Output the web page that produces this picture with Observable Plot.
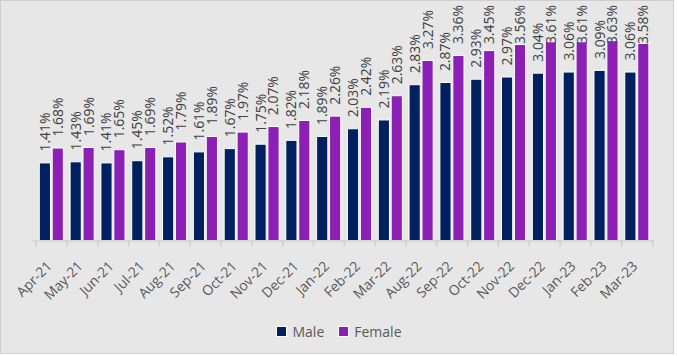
<!DOCTYPE html>
<html>
<head>
<meta charset="utf-8">
<script src="https://cdn.jsdelivr.net/npm/d3@7"></script>
<script src="https://cdn.jsdelivr.net/npm/@observablehq/plot@0.6"></script>
<style>
  html, body { margin: 0; padding: 0; background: #ffffff; }
  #chart { position: relative; width: 674px; height: 354px; box-sizing: border-box;
           border: 1px solid #cfcfcf; background: #e7e7e7; overflow: hidden;
           font-family: "Open Sans", sans-serif; }
  #plot { position: absolute; left: -1px; top: -1px; }
  #legend { position: absolute; left: 0; width: 676px; top: 321px; display: flex; justify-content: center;
            gap: 14px; font-size: 14px; color: #595959; }
  .item { display: flex; align-items: center; gap: 5px; }
  .sw { width: 9px; height: 9px; border: 1px solid #ffffff; }
</style>
</head>
<body>
<div id="chart"><div id="plot"></div><div id="legend"></div></div>
<script>
const months = ["Apr-21","May-21","Jun-21","Jul-21","Aug-21","Sep-21","Oct-21","Nov-21","Dec-21","Jan-22","Feb-22","Mar-22","Aug-22","Sep-22","Oct-22","Nov-22","Dec-22","Jan-23","Feb-23","Mar-23"];
const male = [1.41,1.43,1.41,1.45,1.52,1.61,1.67,1.75,1.82,1.89,2.03,2.19,2.83,2.87,2.93,2.97,3.04,3.06,3.09,3.06];
const female = [1.68,1.69,1.65,1.69,1.79,1.89,1.97,2.07,2.18,2.26,2.42,2.63,3.27,3.36,3.45,3.56,3.61,3.61,3.63,3.58];
const seriesNames = ["Male", "Female"];
const colors = ["#002060", "#8c20b4"];

const maleData = months.map((m, i) => ({month: m, value: male[i]}));
const femaleData = months.map((m, i) => ({month: m, value: female[i]}));

const W = 677, H = 305, ML = 33, MR = 19, MT = 20.4, MB = 63;
const bw = (W - ML - MR) / months.length;
const labelCap = 3.36;
const fmt = v => v.toFixed(2) + "%";

const chart = Plot.plot({
  width: W, height: H,
  marginLeft: ML, marginRight: MR, marginTop: MT, marginBottom: MB,
  style: {background: "transparent", fontFamily: "Open Sans, sans-serif", fontSize: "14px", color: "#595959", overflow: "visible"},
  x: {type: "band", domain: months, padding: 0, axis: null, label: null},
  y: {domain: [0, 4], axis: null, label: null},
  marks: [
    Plot.barY(maleData, {x: "month", y: "value", fill: colors[0], stroke: "white", strokeWidth: 1, insetLeft: 3.5, insetRight: bw - 15}),
    Plot.barY(femaleData, {x: "month", y: "value", fill: colors[1], stroke: "white", strokeWidth: 1, insetLeft: 16.5, insetRight: bw - 28}),
    Plot.ruleY([0], {stroke: "#d0d0d0", strokeWidth: 1.5}),
    Plot.ruleX(months, {x: d => d, y1: 0, y2: 0, insetBottom: -6, dx: -bw / 2, stroke: "#d0d0d0", strokeWidth: 1.5}),
    Plot.ruleX([months[months.length - 1]], {x: d => d, y1: 0, y2: 0, insetBottom: -6, dx: bw / 2, stroke: "#d0d0d0", strokeWidth: 1.5}),
    Plot.text(maleData, {x: "month", y: d => Math.min(d.value, labelCap), text: d => fmt(d.value), rotate: -90, textAnchor: "start", dy: -12, dx: 9.25 - bw / 2, fill: "#404040", fontSize: 14}),
    Plot.text(femaleData, {x: "month", y: d => Math.min(d.value, labelCap), text: d => fmt(d.value), rotate: -90, textAnchor: "start", dy: -12, dx: 22.25 - bw / 2, fill: "#404040", fontSize: 14}),
    Plot.axisX({tickRotate: -45, tickSize: 0, tickPadding: 23, dx: -2, label: null, fill: "#595959", fontSize: 14})
  ]
});
document.getElementById("plot").appendChild(chart);

const legend = document.getElementById("legend");
seriesNames.forEach((name, i) => {
  const item = document.createElement("div");
  item.className = "item";
  const sw = document.createElement("div");
  sw.className = "sw";
  sw.style.background = colors[i];
  const t = document.createElement("span");
  t.textContent = name;
  item.appendChild(sw);
  item.appendChild(t);
  legend.appendChild(item);
});
</script>
</body>
</html>
